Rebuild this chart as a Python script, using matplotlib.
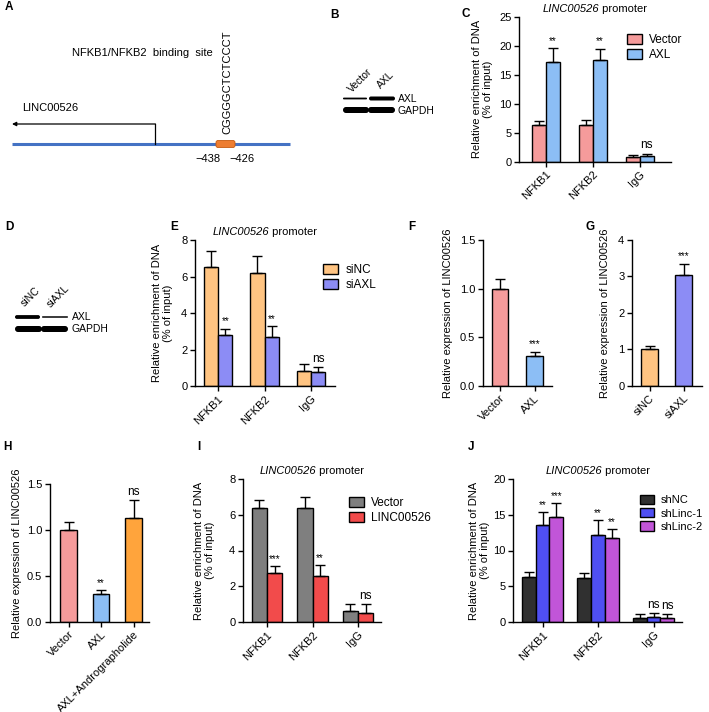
import matplotlib
matplotlib.use("Agg")
import matplotlib.pyplot as plt
from matplotlib.patches import FancyBboxPatch
from matplotlib.transforms import offset_copy
import numpy as np

plt.rcParams['font.family'] = ['Liberation Sans', 'DejaVu Sans']
plt.rcParams['axes.linewidth'] = 1.0

# ---- data ----
chip_groups = ['NFKB1', 'NFKB2', 'IgG']

# C
c_vector = [6.3, 6.4, 0.8]
c_vector_err = [0.8, 0.8, 0.4]
c_axl = [17.2, 17.5, 1.0]
c_axl_err = [2.4, 2.0, 0.4]
c_sig = ['**', '**', 'ns']

# E
e_sinc = [6.5, 6.2, 0.8]
e_sinc_err = [0.9, 0.9, 0.4]
e_siaxl = [2.8, 2.7, 0.75]
e_siaxl_err = [0.35, 0.6, 0.3]
e_sig = ['**', '**', 'ns']

# F
f_labels = ['Vector', 'AXL']
f_vals = [1.0, 0.31]
f_err = [0.1, 0.04]
f_sig = ['', '***']

# G
g_labels = ['siNC', 'siAXL']
g_vals = [1.0, 3.05]
g_err = [0.08, 0.3]
g_sig = ['', '***']

# H
h_labels = ['Vector', 'AXL', 'AXL+Andrographolide']
h_vals = [1.0, 0.30, 1.13]
h_err = [0.09, 0.04, 0.2]
h_sig = ['', '**', 'ns']

# I
i_vector = [6.4, 6.35, 0.62]
i_vector_err = [0.4, 0.62, 0.36]
i_linc = [2.75, 2.6, 0.5]
i_linc_err = [0.37, 0.6, 0.48]
i_sig = ['***', '**', 'ns']

# J
j_shnc = [6.3, 6.1, 0.6]
j_shnc_err = [0.65, 0.7, 0.45]
j_sh1 = [13.6, 12.1, 0.65]
j_sh1_err = [1.8, 2.1, 0.65]
j_sh2 = [14.7, 11.7, 0.6]
j_sh2_err = [1.9, 1.3, 0.45]
j_sig1 = ['**', '**', 'ns']
j_sig2 = ['***', '**', 'ns']

PINK = '#F59B9B'
LBLUE = '#8CBEF5'
LORANGE = '#FFC482'
PERI = '#8C8CF5'
ORANGE = '#FFA43C'
GREY = '#7F7F7F'
RED = '#F24B4B'
DARK = '#303030'
BLUE = '#4F4FF2'
PURPLE = '#C155D8'

W, H = 709, 712
fig = plt.figure(figsize=(W / 100, H / 100), dpi=100)
renderer = fig.canvas.get_renderer()

# overlay in pixel coordinates for schematics and panel letters
ov = fig.add_axes([0, 0, 1, 1])
ov.set_xlim(0, W)
ov.set_ylim(H, 0)
ov.axis('off')


def make_ax(spine, end, top, bottom, c0, step, ymax, yticks):
    ax = fig.add_axes([spine / W, 1 - bottom / H, (end - spine) / W, (bottom - top) / H])
    ax.set_xlim(-(c0 - spine) / step, (end - c0) / step)
    ax.set_ylim(0, ymax)
    ax.set_yticks(yticks)
    for s in ['top', 'right']:
        ax.spines[s].set_visible(False)
    ax.tick_params(direction='out', length=3.5, width=1, labelsize=8, pad=2)
    return ax


def bars(ax, x, vals, errs, color, width, sig=None, label=None):
    ax.bar(x, vals, width, color=color, edgecolor='black', linewidth=1, label=label,
           yerr=[np.zeros(len(vals)), errs], capsize=3.5,
           error_kw=dict(elinewidth=1, capthick=1, ecolor='black'), zorder=2)
    if sig:
        top = np.array(vals) + np.array(errs)
        ymax = ax.get_ylim()[1]
        for xi, t, s in zip(x, top, sig):
            if s:
                fs = 8.5 if s == 'ns' else 7
                ax.text(xi, t + ymax * 0.015, s, ha='center', va='bottom', fontsize=fs)


def xlabels(ax, labels):
    ax.set_xticks(range(len(labels)))
    ax.set_xticklabels(labels, rotation=45, ha='right', rotation_mode='anchor')


def ylabel(ax, text, spine, end, right_px):
    ax.set_ylabel(text, fontsize=8, linespacing=1.1)
    ax.yaxis.set_label_coords((right_px - spine) / (end - spine), 0.5)


def legend(ax, x_px, y_px, fs=8.5):
    ax.legend(loc='upper left', bbox_to_anchor=(x_px / W, 1 - y_px / H),
              bbox_transform=fig.transFigure, frameon=False, fontsize=fs,
              handlelength=1.3, handleheight=0.9, handletextpad=0.6,
              labelspacing=0.25, borderpad=0, borderaxespad=0)


def promoter_title(ax, pad=3):
    # italic gene name followed by upright "promoter", centred over the axes
    t1 = ax.text(0.5, 1, 'LINC00526', fontstyle='italic', fontsize=8,
                 transform=ax.transAxes, ha='left', va='bottom')
    t2 = ax.text(0.5, 1, ' promoter', fontsize=8,
                 transform=ax.transAxes, ha='left', va='bottom')
    w1 = t1.get_window_extent(renderer).width
    w2 = t2.get_window_extent(renderer).width
    x0 = -(w1 + w2) / 2
    t1.set_transform(offset_copy(ax.transAxes, fig=fig, x=x0, y=pad, units='dots'))
    t2.set_transform(offset_copy(ax.transAxes, fig=fig, x=x0 + w1, y=pad, units='dots'))


# ---------------- A: promoter schematic ----------------
ov.plot([12, 290], [144, 144], color='#4472C4', lw=2.2, solid_capstyle='butt')
ov.add_patch(FancyBboxPatch((216, 140.5), 19, 7, boxstyle='round,pad=0,rounding_size=2',
                            facecolor='#ED7D31', edgecolor='#C55A11', lw=0.6, zorder=3))
ov.plot([155, 155], [144, 124], color='black', lw=0.9)
ov.annotate('', xy=(12, 124), xytext=(155.4, 124),
            arrowprops=dict(arrowstyle='-|>', lw=0.9, color='black', mutation_scale=6,
                            shrinkA=0, shrinkB=0))
ov.text(22, 108, 'LINC00526', fontsize=8, ha='left', va='center')
ov.text(72, 53, 'NFKB1/NFKB2  binding  site', fontsize=8, ha='left', va='center')
ov.text(227, 134, 'CGGGGCTCTCCCT', fontsize=8, rotation=90, ha='center', va='bottom')
ov.text(208, 159, '\u2212438', fontsize=8, ha='center', va='center')
ov.text(242, 159, '\u2212426', fontsize=8, ha='center', va='center')


# ---------------- B / D: western blots ----------------
def band(x0, x1, yc, h):
    ov.add_patch(FancyBboxPatch((x0, yc - h / 2), x1 - x0, h,
                                boxstyle='round,pad=0,rounding_size=%.1f' % (h / 2),
                                facecolor='black', edgecolor='none'))


# B
ov.text(360, 80, 'Vector', fontsize=7.5, rotation=45, ha='center', va='center')
ov.text(386, 80, 'AXL', fontsize=7.5, rotation=45, ha='center', va='center')
band(343, 367, 98.5, 1.8)
band(369, 395, 98.5, 4.0)
band(343, 369, 110, 6)
band(368, 395, 110, 6)
ov.text(398, 99, 'AXL', fontsize=7.5, ha='left', va='center')
ov.text(398, 111, 'GAPDH', fontsize=7.5, ha='left', va='center')

# D
ov.text(31, 297, 'siNC', fontsize=7.5, rotation=45, ha='center', va='center')
ov.text(58, 296, 'siAXL', fontsize=7.5, rotation=45, ha='center', va='center')
band(15, 40, 317, 3.8)
band(42, 68, 317, 1.5)
band(15, 42, 329, 6)
band(41, 68, 329, 6)
ov.text(72, 317.5, 'AXL', fontsize=7.5, ha='left', va='center')
ov.text(72, 329.5, 'GAPDH', fontsize=7.5, ha='left', va='center')

# panel letters
for lab, x, y in [('A', 5, 7), ('B', 330, 15), ('C', 461, 14), ('D', 5, 227),
                  ('E', 170, 227), ('F', 408, 227), ('G', 585, 227),
                  ('H', 3, 447), ('I', 197, 447), ('J', 468, 447)]:
    ov.text(x, y, lab, fontsize=8.5, fontweight='bold', ha='left', va='center')

x3 = np.arange(3)

# ---------------- C ----------------
sp, en = 519, 671
axc = make_ax(sp, en, 16.7, 161.7, 546, 47, 25, [0, 5, 10, 15, 20, 25])
bw = 0.29
bars(axc, x3 - bw / 2, c_vector, c_vector_err, PINK, bw, label='Vector')
bars(axc, x3 + bw / 2, c_axl, c_axl_err, LBLUE, bw, c_sig, label='AXL')
xlabels(axc, chip_groups)
promoter_title(axc)
ylabel(axc, 'Relative enrichment of DNA\n(% of input)', sp, en, 493)
legend(axc, 627, 34)

# ---------------- E ----------------
sp, en = 195, 335
axe = make_ax(sp, en, 240, 386, 218, 46.5, 8, [0, 2, 4, 6, 8])
bw = 0.31
bars(axe, x3 - bw / 2, e_sinc, e_sinc_err, LORANGE, bw, label='siNC')
bars(axe, x3 + bw / 2, e_siaxl, e_siaxl_err, PERI, bw, e_sig, label='siAXL')
xlabels(axe, chip_groups)
promoter_title(axe)
ylabel(axe, 'Relative enrichment of DNA\n(% of input)', sp, en, 173)
legend(axe, 323, 264)

# ---------------- F ----------------
sp, en = 483, 552
axf = make_ax(sp, en, 240, 385.7, 500, 34.5, 1.5, [0.0, 0.5, 1.0, 1.5])
axf.yaxis.set_major_formatter(matplotlib.ticker.FormatStrFormatter('%.1f'))
bars(axf, np.arange(2), f_vals, f_err, [PINK, LBLUE], 0.47, f_sig)
xlabels(axf, f_labels)
ylabel(axf, 'Relative expression of LINC00526', sp, en, 453)

# ---------------- G ----------------
sp, en = 632, 702
axg = make_ax(sp, en, 240, 385.7, 649.5, 34, 4, [0, 1, 2, 3, 4])
bars(axg, np.arange(2), g_vals, g_err, [LORANGE, PERI], 0.5, g_sig)
xlabels(axg, g_labels)
ylabel(axg, 'Relative expression of LINC00526', sp, en, 610)

# ---------------- H ----------------
sp, en = 50, 149
axh = make_ax(sp, en, 484, 621.7, 68.5, 32.5, 1.5, [0.0, 0.5, 1.0, 1.5])
axh.yaxis.set_major_formatter(matplotlib.ticker.FormatStrFormatter('%.1f'))
bars(axh, x3, h_vals, h_err, [PINK, LBLUE, ORANGE], 0.52, h_sig)
xlabels(axh, h_labels)
ylabel(axh, 'Relative expression of LINC00526', sp, en, 22)

# ---------------- I ----------------
sp, en = 243, 381
axi = make_ax(sp, en, 479, 622, 267, 45.5, 8, [0, 2, 4, 6, 8])
bw = 0.33
bars(axi, x3 - bw / 2, i_vector, i_vector_err, GREY, bw, label='Vector')
bars(axi, x3 + bw / 2, i_linc, i_linc_err, RED, bw, i_sig, label='LINC00526')
xlabels(axi, chip_groups)
promoter_title(axi)
ylabel(axi, 'Relative enrichment of DNA\n(% of input)', sp, en, 215)
legend(axi, 349, 497)

# ---------------- J ----------------
sp, en = 513, 682
axj = make_ax(sp, en, 479, 622, 542.5, 55.5, 20, [0, 5, 10, 15, 20])
bw = 0.25
bars(axj, x3 - bw, j_shnc, j_shnc_err, DARK, bw, label='shNC')
bars(axj, x3, j_sh1, j_sh1_err, BLUE, bw, j_sig1, label='shLinc-1')
bars(axj, x3 + bw, j_sh2, j_sh2_err, PURPLE, bw, j_sig2, label='shLinc-2')
xlabels(axj, chip_groups)
promoter_title(axj)
ylabel(axj, 'Relative enrichment of DNA\n(% of input)', sp, en, 490)
legend(axj, 640, 495, fs=8)

fig.savefig('out.png', dpi=100)
